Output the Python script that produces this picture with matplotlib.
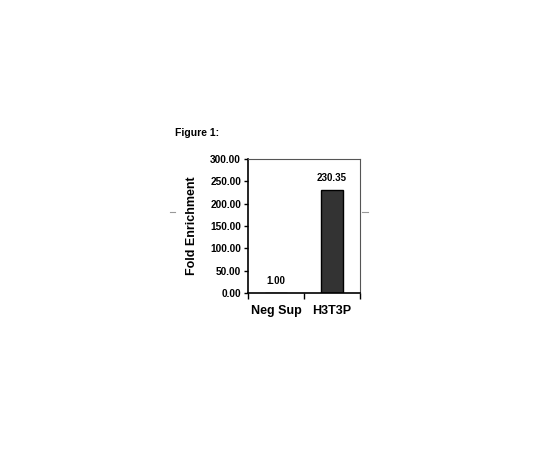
import matplotlib
matplotlib.use('Agg')
import matplotlib.pyplot as plt
from matplotlib.lines import Line2D

# data
categories = ['Neg Sup', 'H3T3P']
fold_enrichment = [1.00, 230.35]
value_labels = ['1.00', '230.35']
y_ticks = [0, 50, 100, 150, 200, 250, 300]

plt.rcParams['font.family'] = ['Liberation Sans', 'DejaVu Sans']

fig = plt.figure(figsize=(5.4, 4.5), dpi=100)
ax = fig.add_axes([248/540, 1-293/450, 112/540, 134/450])

pos = range(len(categories))
ax.bar(pos, fold_enrichment, width=0.41, color='#333333', edgecolor='black', linewidth=1)

for i, (v, lab) in enumerate(zip(fold_enrichment, value_labels)):
    ax.annotate(lab, (i, v), xytext=(0, 5), textcoords='offset points',
                ha='center', va='bottom', fontsize=7, fontweight='bold')

ax.set_xlim(-0.5, 1.5)
ax.set_ylim(0, 300)
ax.set_yticks(y_ticks)
ax.set_yticklabels(['%.2f' % t for t in y_ticks], fontsize=7.3, fontweight='bold')
ax.tick_params(axis='y', direction='out', length=3, width=1, pad=2)

# category labels, ticks at the category boundaries
ax.set_xticks([-0.5, 0.5, 1.5])
ax.set_xticklabels([])
ax.tick_params(axis='x', direction='out', length=4, width=1)
for i, c in enumerate(categories):
    ax.text(i, -0.09, c, transform=ax.get_xaxis_transform(), ha='center', va='top',
            fontsize=9, fontweight='bold')

ax.set_ylabel('Fold Enrichment', fontsize=9, fontweight='bold', labelpad=9)

ax.spines['left'].set_linewidth(1.2)
ax.spines['bottom'].set_linewidth(1.2)
ax.spines['top'].set_color('#555555')
ax.spines['right'].set_color('#555555')
ax.spines['top'].set_linewidth(0.8)
ax.spines['right'].set_linewidth(0.8)

fig.text(175/540, 1-133/450, 'Figure 1:', fontsize=7.5, fontweight='bold', va='center')

# the two small stray dashes either side of the chart
fig.add_artist(Line2D([170/540, 175/540], [1-212/450, 1-212/450], color='#999999', lw=0.8))
fig.add_artist(Line2D([362/540, 368/540], [1-212/450, 1-212/450], color='#999999', lw=0.8))

fig.savefig('out.png', dpi=100)
